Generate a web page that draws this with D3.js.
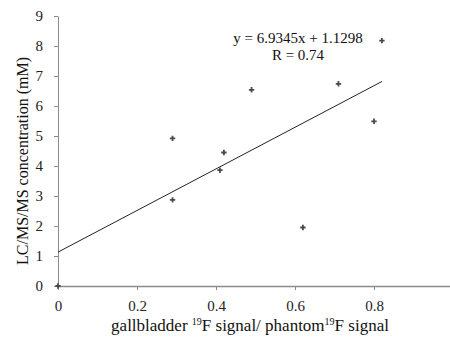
<!DOCTYPE html>
<html>
<head>
<meta charset="utf-8">
<script src="https://cdn.jsdelivr.net/npm/d3@7"></script>
<style>
  body { margin: 0; background: #fff; }
  svg { display: block; }
  svg text { font-family: 'Liberation Serif', 'DejaVu Serif', serif; }
</style>
</head>
<body>
<svg id="chart" width="450" height="337"></svg>
<script>
// ratio of gallbladder 19F signal to phantom 19F signal
const ratio = [0, 0.29, 0.29, 0.41, 0.42, 0.49, 0.62, 0.71, 0.80, 0.82];
// LC/MS/MS concentration (mM)
const conc = [0, 2.87, 4.92, 3.86, 4.45, 6.54, 1.95, 6.74, 5.49, 8.18];
const xTicks = [0, 0.2, 0.4, 0.6, 0.8, 1];
const yTicks = [0, 1, 2, 3, 4, 5, 6, 7, 8, 9];
const slope = 6.9345, intercept = 1.1298;
const eqText = 'y = 6.9345x + 1.1298';
const rText = 'R = 0.74';

const serif = "'Liberation Serif', 'DejaVu Serif', serif";
const svg = d3.select('#chart');
const margin = { top: 16, right: -3, bottom: 51, left: 58 };
const width = 450, height = 337;

const x = d3.scaleLinear().domain([0, 1]).range([margin.left, width - margin.right]);
const y = d3.scaleLinear().domain([0, 9]).range([height - margin.bottom, margin.top]);

const axisColor = '#8c8c8c';

// x axis
const gx = svg.append('g')
  .attr('transform', 'translate(0,' + y(0) + ')')
  .call(d3.axisBottom(x).tickValues(xTicks).tickSize(4).tickSizeOuter(0).tickPadding(10)
    .tickFormat(d => String(d)));
gx.attr('font-family', serif).attr('font-size', 15);
gx.select('.domain').attr('stroke', axisColor).attr('stroke-width', 1.5);
gx.selectAll('.tick line').attr('stroke', axisColor);
gx.selectAll('.tick text').attr('fill', '#222');

// y axis
const gy = svg.append('g')
  .attr('transform', 'translate(' + x(0) + ',0)')
  .call(d3.axisLeft(y).tickValues(yTicks).tickSize(4).tickSizeOuter(0).tickPadding(11));
gy.attr('font-family', serif).attr('font-size', 15);
gy.select('.domain').attr('stroke', axisColor).attr('stroke-width', 1);
gy.selectAll('.tick line').attr('stroke', axisColor);
gy.selectAll('.tick text').attr('fill', '#222');

// trend line
const xMax = d3.max(ratio);
svg.append('line')
  .attr('x1', x(0)).attr('y1', y(intercept))
  .attr('x2', x(xMax)).attr('y2', y(slope * xMax + intercept))
  .attr('stroke', '#222').attr('stroke-width', 1);

// points
const star = d3.symbol().type(d3.symbolCross).size(16);
svg.selectAll('.pt')
  .data(ratio.map((r, i) => ({ r: r, c: conc[i] })))
  .enter()
  .append('path')
  .attr('class', 'pt')
  .attr('d', star)
  .attr('transform', d => 'translate(' + x(d.r) + ',' + y(d.c) + ')')
  .attr('fill', '#4a4a4a');

// equation
svg.append('text')
  .attr('x', 298).attr('y', 43)
  .attr('text-anchor', 'middle')
  .attr('font-family', serif).attr('font-size', 15)
  .attr('fill', '#111')
  .text(eqText);
svg.append('text')
  .attr('x', 298).attr('y', 60)
  .attr('text-anchor', 'middle')
  .attr('font-family', serif).attr('font-size', 15)
  .attr('fill', '#111')
  .text(rText);

// y title
svg.append('text')
  .attr('transform', 'translate(28,' + 161 + ') rotate(-90)')
  .attr('text-anchor', 'middle')
  .attr('font-family', serif).attr('font-size', 16)
  .attr('fill', '#111')
  .text('LC/MS/MS concentration (mM)');

// x title with superscripts
const xt = svg.append('text')
  .attr('x', 250).attr('y', 331)
  .attr('text-anchor', 'middle')
  .attr('font-family', serif).attr('font-size', 17)
  .attr('fill', '#111');
xt.append('tspan').text('gallbladder ');
xt.append('tspan').attr('dy', -6).attr('font-size', 10).text('19');
xt.append('tspan').attr('dy', 6).text('F signal/ phantom');
xt.append('tspan').attr('dy', -6).attr('font-size', 10).text('19');
xt.append('tspan').attr('dy', 6).text('F signal');
</script>
</body>
</html>
